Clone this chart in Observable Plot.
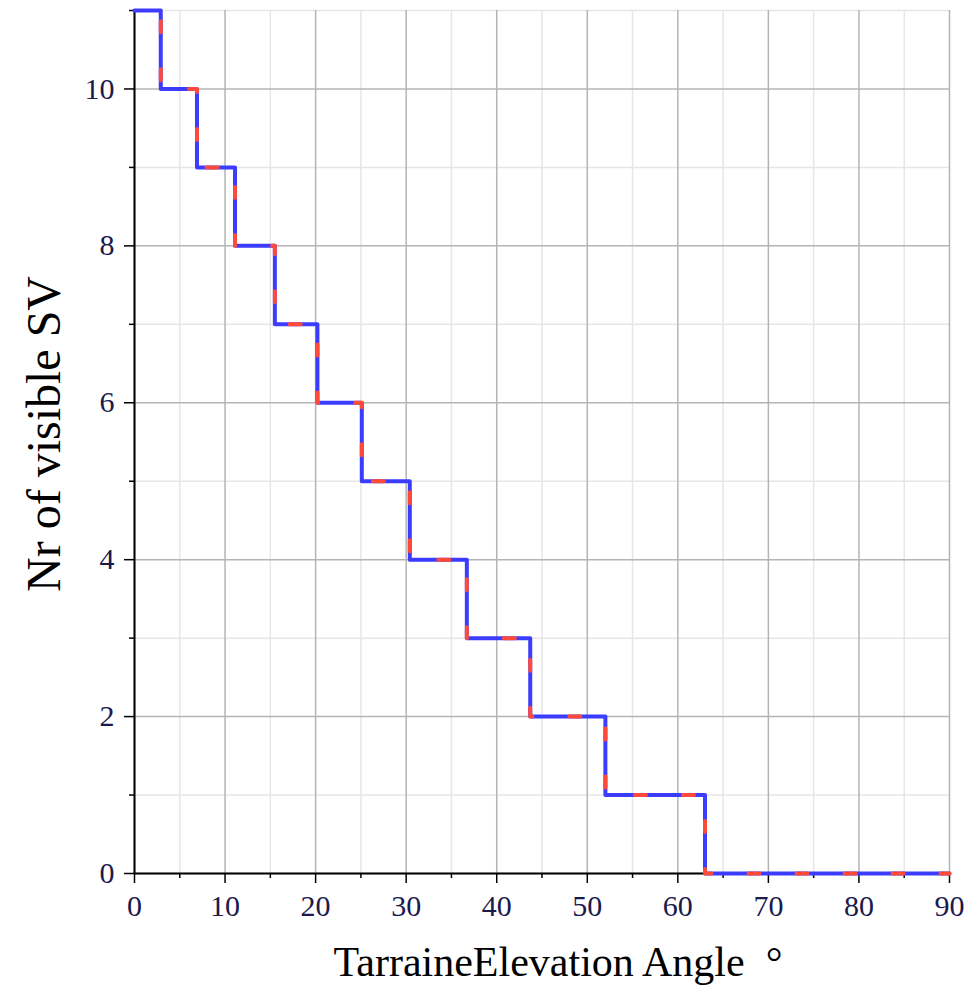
<!DOCTYPE html>
<html>
<head>
<meta charset="utf-8">
<script src="https://cdn.jsdelivr.net/npm/d3@7"></script>
<script src="https://cdn.jsdelivr.net/npm/@observablehq/plot@0.6"></script>
<style>
  html, body { margin: 0; padding: 0; background: white; }
</style>
</head>
<body>
<div id="chart"></div>
<script>
// Data
const angles  = [0, 2.9, 6.9, 11.1, 15.5, 20.2, 25.1, 30.4, 36.7, 43.7, 52.0, 63.0, 90];
const visible = [11, 10, 9, 8, 7, 6, 5, 4, 3, 2, 1, 0, 0];
const xTicks = [0, 10, 20, 30, 40, 50, 60, 70, 80, 90];
const xMinor = [5, 15, 25, 35, 45, 55, 65, 75, 85];
const yTicks = [0, 2, 4, 6, 8, 10];
const yMinor = [1, 3, 5, 7, 9, 11];
const xLabel = ["TarraineElevation Angle\u00a0\u00a0°"];
const yLabel = ["Nr of visible SV"];

const data = angles.map((a, i) => ({angle: a, n: visible[i]}));
const tickColor = "#1a1a4d";
const fmt = d3.format("d");

const chart = Plot.plot({
  width: 968,
  height: 991,
  marginLeft: 134,
  marginRight: 19,
  marginTop: 10,
  marginBottom: 118,
  x: {domain: [0, 90]},
  y: {domain: [0, 11]},
  style: {fontFamily: "'Liberation Serif', 'Times New Roman', serif", background: "white", color: "black"},
  marks: [
    Plot.gridX(xMinor, {stroke: "#e6e6e6", strokeOpacity: 1, strokeWidth: 1.5}),
    Plot.gridY(yMinor, {stroke: "#e6e6e6", strokeOpacity: 1, strokeWidth: 1.5}),
    Plot.gridX(xTicks, {stroke: "#b4b4b4", strokeOpacity: 1, strokeWidth: 1.5}),
    Plot.gridY(yTicks, {stroke: "#b4b4b4", strokeOpacity: 1, strokeWidth: 1.5}),
    Plot.axisX(xMinor, {tickSize: 5, stroke: "black", strokeWidth: 1.5, fill: "none", label: null}),
    Plot.axisY(yMinor, {tickSize: 5, stroke: "black", strokeWidth: 1.5, fill: "none", label: null}),
    Plot.axisX(xTicks, {tickSize: 10, tickPadding: 11, fontSize: 30, tickFormat: fmt, stroke: "black", strokeWidth: 1.5, fill: tickColor, label: null}),
    Plot.axisY(yTicks, {tickSize: 10, tickPadding: 10, fontSize: 30, tickFormat: fmt, stroke: "black", strokeWidth: 1.5, fill: tickColor, label: null}),
    Plot.ruleY([0], {stroke: "black", strokeWidth: 2}),
    Plot.ruleX([0], {stroke: "black", strokeWidth: 2}),
    Plot.line(data, {x: "angle", y: "n", curve: "step-after", stroke: "#3c3cff", strokeWidth: 4}),
    Plot.line(data, {x: "angle", y: "n", curve: "step-after", stroke: "#ff4a3a", strokeWidth: 4,
                     strokeDasharray: "11,37", strokeDashoffset: 11}),
    Plot.text(yLabel, {frameAnchor: "left", textAnchor: "middle", rotate: -90, dx: -90, dy: -8, fontSize: 48, fill: "black"}),
    Plot.text(xLabel, {frameAnchor: "bottom", textAnchor: "middle", lineAnchor: "bottom", dy: 102, dx: 16, fontSize: 42, fill: "black"})
  ]
});
document.getElementById("chart").appendChild(chart);
</script>
</body>
</html>
